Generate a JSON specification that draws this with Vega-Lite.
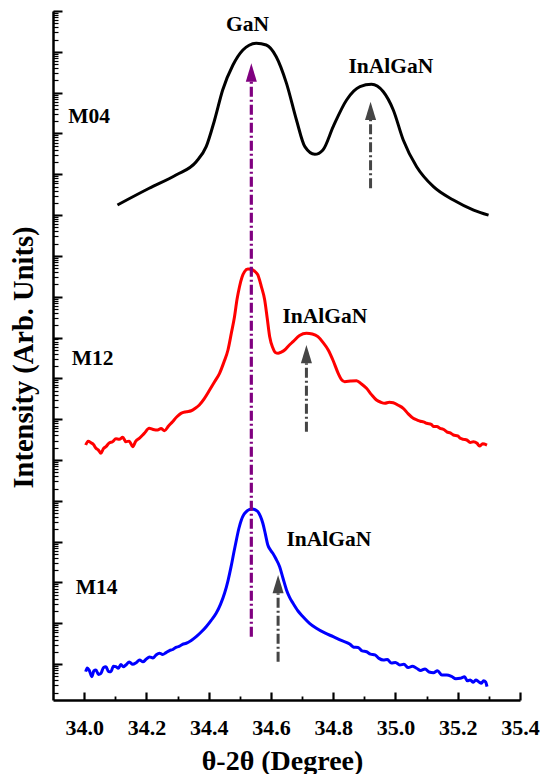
{
  "$schema": "https://vega.github.io/schema/vega-lite/v6.json",
  "width": 467,
  "height": 689,
  "autosize": {"type": "none"},
  "padding": {"left": 53, "top": 11, "right": 21, "bottom": 74},
  "background": "white",
  "config": {
    "view": {"stroke": null},
    "font": "Liberation Serif, Times New Roman, serif",
    "axis": {"grid": false, "domainColor": "#000000", "tickColor": "#000000", "labelColor": "#000000", "titleColor": "#000000", "labelFont": "Liberation Serif, Times New Roman, serif", "titleFont": "Liberation Serif, Times New Roman, serif"}
  },
  "datasets": {
    "curves": [
      {"sample": "M04", "theta": 34.107, "intensity": 1.77e12},
      {"sample": "M04", "theta": 34.209, "intensity": 4.54e12},
      {"sample": "M04", "theta": 34.295, "intensity": 9.59e12},
      {"sample": "M04", "theta": 34.360, "intensity": 2.03e13},
      {"sample": "M04", "theta": 34.392, "intensity": 4.74e13},
      {"sample": "M04", "theta": 34.419, "intensity": 2.14e14},
      {"sample": "M04", "theta": 34.445, "intensity": 1.16e15},
      {"sample": "M04", "theta": 34.478, "intensity": 4.75e15},
      {"sample": "M04", "theta": 34.510, "intensity": 1.11e16},
      {"sample": "M04", "theta": 34.530, "intensity": 1.45e16},
      {"sample": "M04", "theta": 34.553, "intensity": 1.62e16},
      {"sample": "M04", "theta": 34.585, "intensity": 1.47e16},
      {"sample": "M04", "theta": 34.617, "intensity": 7.59e15},
      {"sample": "M04", "theta": 34.650, "intensity": 1.69e15},
      {"sample": "M04", "theta": 34.682, "intensity": 2.14e14},
      {"sample": "M04", "theta": 34.709, "intensity": 4.74e13},
      {"sample": "M04", "theta": 34.741, "intensity": 3.08e13},
      {"sample": "M04", "theta": 34.767, "intensity": 3.94e13},
      {"sample": "M04", "theta": 34.800, "intensity": 1.47e14},
      {"sample": "M04", "theta": 34.843, "intensity": 6.61e14},
      {"sample": "M04", "theta": 34.886, "intensity": 1.40e15},
      {"sample": "M04", "theta": 34.923, "intensity": 1.60e15},
      {"sample": "M04", "theta": 34.961, "intensity": 1.05e15},
      {"sample": "M04", "theta": 34.993, "intensity": 3.76e14},
      {"sample": "M04", "theta": 35.025, "intensity": 6.92e13},
      {"sample": "M04", "theta": 35.068, "intensity": 1.53e13},
      {"sample": "M04", "theta": 35.122, "intensity": 4.97e12},
      {"sample": "M04", "theta": 35.186, "intensity": 2.34e12},
      {"sample": "M04", "theta": 35.251, "intensity": 1.33e12},
      {"sample": "M04", "theta": 35.299, "intensity": 1.00e12},

      {"sample": "M12", "theta": 34.005, "intensity": 2.33e6},
      {"sample": "M12", "theta": 34.013, "intensity": 2.9e6},
      {"sample": "M12", "theta": 34.022, "intensity": 2.65e6},
      {"sample": "M12", "theta": 34.030, "intensity": 2.4e6},
      {"sample": "M12", "theta": 34.038, "intensity": 1.94e6},
      {"sample": "M12", "theta": 34.046, "intensity": 1.75e6},
      {"sample": "M12", "theta": 34.054, "intensity": 1.46e6},
      {"sample": "M12", "theta": 34.062, "intensity": 1.9e6},
      {"sample": "M12", "theta": 34.070, "intensity": 2.12e6},
      {"sample": "M12", "theta": 34.080, "intensity": 2.6e6},
      {"sample": "M12", "theta": 34.091, "intensity": 2.81e6},
      {"sample": "M12", "theta": 34.102, "intensity": 3.3e6},
      {"sample": "M12", "theta": 34.113, "intensity": 3.21e6},
      {"sample": "M12", "theta": 34.124, "intensity": 3.6e6},
      {"sample": "M12", "theta": 34.134, "intensity": 2.81e6},
      {"sample": "M12", "theta": 34.145, "intensity": 2.9e6},
      {"sample": "M12", "theta": 34.156, "intensity": 2.12e6},
      {"sample": "M12", "theta": 34.166, "intensity": 2.9e6},
      {"sample": "M12", "theta": 34.177, "intensity": 3.40e6},
      {"sample": "M12", "theta": 34.193, "intensity": 4.5e6},
      {"sample": "M12", "theta": 34.209, "intensity": 5.98e6},
      {"sample": "M12", "theta": 34.222, "intensity": 5.6e6},
      {"sample": "M12", "theta": 34.236, "intensity": 5.43e6},
      {"sample": "M12", "theta": 34.247, "intensity": 5.9e6},
      {"sample": "M12", "theta": 34.258, "intensity": 5.22e6},
      {"sample": "M12", "theta": 34.271, "intensity": 6.8e6},
      {"sample": "M12", "theta": 34.284, "intensity": 8.69e6},
      {"sample": "M12", "theta": 34.298, "intensity": 1.15e7},
      {"sample": "M12", "theta": 34.311, "intensity": 1.39e7},
      {"sample": "M12", "theta": 34.328, "intensity": 1.52e7},
      {"sample": "M12", "theta": 34.344, "intensity": 1.61e7},
      {"sample": "M12", "theta": 34.357, "intensity": 1.85e7},
      {"sample": "M12", "theta": 34.370, "intensity": 2.23e7},
      {"sample": "M12", "theta": 34.386, "intensity": 3.2e7},
      {"sample": "M12", "theta": 34.403, "intensity": 5.19e7},
      {"sample": "M12", "theta": 34.419, "intensity": 8.3e7},
      {"sample": "M12", "theta": 34.435, "intensity": 1.33e8},
      {"sample": "M12", "theta": 34.449, "intensity": 2.5e8},
      {"sample": "M12", "theta": 34.462, "intensity": 4.95e8},
      {"sample": "M12", "theta": 34.473, "intensity": 1.3e9},
      {"sample": "M12", "theta": 34.483, "intensity": 3.24e9},
      {"sample": "M12", "theta": 34.491, "intensity": 8.5e9},
      {"sample": "M12", "theta": 34.499, "intensity": 1.76e10},
      {"sample": "M12", "theta": 34.507, "intensity": 3.0e10},
      {"sample": "M12", "theta": 34.515, "intensity": 4.10e10},
      {"sample": "M12", "theta": 34.526, "intensity": 4.75e10},
      {"sample": "M12", "theta": 34.537, "intensity": 4.70e10},
      {"sample": "M12", "theta": 34.548, "intensity": 4.2e10},
      {"sample": "M12", "theta": 34.558, "intensity": 3.41e10},
      {"sample": "M12", "theta": 34.569, "intensity": 1.8e10},
      {"sample": "M12", "theta": 34.580, "intensity": 8.32e9},
      {"sample": "M12", "theta": 34.588, "intensity": 3.0e9},
      {"sample": "M12", "theta": 34.596, "intensity": 1.05e9},
      {"sample": "M12", "theta": 34.606, "intensity": 5.6e8},
      {"sample": "M12", "theta": 34.614, "intensity": 4.3e8},
      {"sample": "M12", "theta": 34.623, "intensity": 4.11e8},
      {"sample": "M12", "theta": 34.633, "intensity": 4.4e8},
      {"sample": "M12", "theta": 34.644, "intensity": 4.95e8},
      {"sample": "M12", "theta": 34.657, "intensity": 6.3e8},
      {"sample": "M12", "theta": 34.671, "intensity": 7.93e8},
      {"sample": "M12", "theta": 34.692, "intensity": 1.12e9},
      {"sample": "M12", "theta": 34.714, "intensity": 1.27e9},
      {"sample": "M12", "theta": 34.733, "intensity": 1.22e9},
      {"sample": "M12", "theta": 34.751, "intensity": 1.05e9},
      {"sample": "M12", "theta": 34.767, "intensity": 7.6e8},
      {"sample": "M12", "theta": 34.784, "intensity": 4.95e8},
      {"sample": "M12", "theta": 34.800, "intensity": 2.7e8},
      {"sample": "M12", "theta": 34.816, "intensity": 1.33e8},
      {"sample": "M12", "theta": 34.826, "intensity": 9.5e7},
      {"sample": "M12", "theta": 34.837, "intensity": 8.30e7},
      {"sample": "M12", "theta": 34.856, "intensity": 8.6e7},
      {"sample": "M12", "theta": 34.875, "intensity": 8.77e7},
      {"sample": "M12", "theta": 34.891, "intensity": 7.3e7},
      {"sample": "M12", "theta": 34.907, "intensity": 5.71e7},
      {"sample": "M12", "theta": 34.923, "intensity": 4.0e7},
      {"sample": "M12", "theta": 34.939, "intensity": 2.95e7},
      {"sample": "M12", "theta": 34.953, "intensity": 2.6e7},
      {"sample": "M12", "theta": 34.966, "intensity": 2.45e7},
      {"sample": "M12", "theta": 34.980, "intensity": 2.6e7},
      {"sample": "M12", "theta": 34.993, "intensity": 2.54e7},
      {"sample": "M12", "theta": 35.009, "intensity": 2.2e7},
      {"sample": "M12", "theta": 35.025, "intensity": 1.85e7},
      {"sample": "M12", "theta": 35.041, "intensity": 1.35e7},
      {"sample": "M12", "theta": 35.057, "intensity": 1.05e7},
      {"sample": "M12", "theta": 35.070, "intensity": 9.5e6},
      {"sample": "M12", "theta": 35.080, "intensity": 8.9e6},
      {"sample": "M12", "theta": 35.090, "intensity": 8.6e6},
      {"sample": "M12", "theta": 35.100, "intensity": 7.94e6},
      {"sample": "M12", "theta": 35.115, "intensity": 7.5e6},
      {"sample": "M12", "theta": 35.122, "intensity": 6.6e6},
      {"sample": "M12", "theta": 35.133, "intensity": 6.6e6},
      {"sample": "M12", "theta": 35.143, "intensity": 5.98e6},
      {"sample": "M12", "theta": 35.155, "intensity": 5.6e6},
      {"sample": "M12", "theta": 35.165, "intensity": 4.9e6},
      {"sample": "M12", "theta": 35.176, "intensity": 4.6e6},
      {"sample": "M12", "theta": 35.186, "intensity": 4.10e6},
      {"sample": "M12", "theta": 35.200, "intensity": 3.9e6},
      {"sample": "M12", "theta": 35.208, "intensity": 3.4e6},
      {"sample": "M12", "theta": 35.219, "intensity": 3.2e6},
      {"sample": "M12", "theta": 35.229, "intensity": 3.09e6},
      {"sample": "M12", "theta": 35.240, "intensity": 2.7e6},
      {"sample": "M12", "theta": 35.250, "intensity": 2.8e6},
      {"sample": "M12", "theta": 35.262, "intensity": 2.57e6},
      {"sample": "M12", "theta": 35.270, "intensity": 2.2e6},
      {"sample": "M12", "theta": 35.280, "intensity": 2.5e6},
      {"sample": "M12", "theta": 35.294, "intensity": 2.33e6},

      {"sample": "M14", "theta": 34.005, "intensity": 6.53},
      {"sample": "M14", "theta": 34.010, "intensity": 8.0},
      {"sample": "M14", "theta": 34.016, "intensity": 7.18},
      {"sample": "M14", "theta": 34.025, "intensity": 4.92},
      {"sample": "M14", "theta": 34.031, "intensity": 6.8},
      {"sample": "M14", "theta": 34.038, "intensity": 7.18},
      {"sample": "M14", "theta": 34.046, "intensity": 5.6},
      {"sample": "M14", "theta": 34.054, "intensity": 5.96},
      {"sample": "M14", "theta": 34.062, "intensity": 8.2},
      {"sample": "M14", "theta": 34.070, "intensity": 8.65},
      {"sample": "M14", "theta": 34.078, "intensity": 6.6},
      {"sample": "M14", "theta": 34.086, "intensity": 6.53},
      {"sample": "M14", "theta": 34.094, "intensity": 8.9},
      {"sample": "M14", "theta": 34.102, "intensity": 8.65},
      {"sample": "M14", "theta": 34.110, "intensity": 7.9},
      {"sample": "M14", "theta": 34.118, "intensity": 9.8},
      {"sample": "M14", "theta": 34.126, "intensity": 8.6},
      {"sample": "M14", "theta": 34.134, "intensity": 9.51},
      {"sample": "M14", "theta": 34.145, "intensity": 11.2},
      {"sample": "M14", "theta": 34.156, "intensity": 9.9},
      {"sample": "M14", "theta": 34.167, "intensity": 10.8},
      {"sample": "M14", "theta": 34.178, "intensity": 12.6},
      {"sample": "M14", "theta": 34.189, "intensity": 11.4},
      {"sample": "M14", "theta": 34.199, "intensity": 13.1},
      {"sample": "M14", "theta": 34.210, "intensity": 15.0},
      {"sample": "M14", "theta": 34.221, "intensity": 14.1},
      {"sample": "M14", "theta": 34.231, "intensity": 16.7},
      {"sample": "M14", "theta": 34.242, "intensity": 18.5},
      {"sample": "M14", "theta": 34.252, "intensity": 17.2},
      {"sample": "M14", "theta": 34.263, "intensity": 19.1},
      {"sample": "M14", "theta": 34.274, "intensity": 21.5},
      {"sample": "M14", "theta": 34.285, "intensity": 22.8},
      {"sample": "M14", "theta": 34.295, "intensity": 25.8},
      {"sample": "M14", "theta": 34.305, "intensity": 27.0},
      {"sample": "M14", "theta": 34.316, "intensity": 30.5},
      {"sample": "M14", "theta": 34.328, "intensity": 32.4},
      {"sample": "M14", "theta": 34.344, "intensity": 38},
      {"sample": "M14", "theta": 34.360, "intensity": 47.0},
      {"sample": "M14", "theta": 34.376, "intensity": 61},
      {"sample": "M14", "theta": 34.392, "intensity": 82.6},
      {"sample": "M14", "theta": 34.408, "intensity": 118},
      {"sample": "M14", "theta": 34.424, "intensity": 176},
      {"sample": "M14", "theta": 34.438, "intensity": 290},
      {"sample": "M14", "theta": 34.451, "intensity": 543},
      {"sample": "M14", "theta": 34.462, "intensity": 1100},
      {"sample": "M14", "theta": 34.472, "intensity": 2440},
      {"sample": "M14", "theta": 34.481, "intensity": 5500},
      {"sample": "M14", "theta": 34.489, "intensity": 11000},
      {"sample": "M14", "theta": 34.497, "intensity": 21000},
      {"sample": "M14", "theta": 34.505, "intensity": 34000},
      {"sample": "M14", "theta": 34.513, "intensity": 46000},
      {"sample": "M14", "theta": 34.521, "intensity": 54200},
      {"sample": "M14", "theta": 34.530, "intensity": 61000},
      {"sample": "M14", "theta": 34.540, "intensity": 63100},
      {"sample": "M14", "theta": 34.550, "intensity": 60000},
      {"sample": "M14", "theta": 34.558, "intensity": 54200},
      {"sample": "M14", "theta": 34.566, "intensity": 42000},
      {"sample": "M14", "theta": 34.574, "intensity": 28200},
      {"sample": "M14", "theta": 34.582, "intensity": 15500},
      {"sample": "M14", "theta": 34.590, "intensity": 8280},
      {"sample": "M14", "theta": 34.598, "intensity": 6300},
      {"sample": "M14", "theta": 34.606, "intensity": 5190},
      {"sample": "M14", "theta": 34.616, "intensity": 3800},
      {"sample": "M14", "theta": 34.628, "intensity": 2440},
      {"sample": "M14", "theta": 34.639, "intensity": 1250},
      {"sample": "M14", "theta": 34.650, "intensity": 655},
      {"sample": "M14", "theta": 34.660, "intensity": 430},
      {"sample": "M14", "theta": 34.671, "intensity": 309},
      {"sample": "M14", "theta": 34.687, "intensity": 200},
      {"sample": "M14", "theta": 34.703, "intensity": 145},
      {"sample": "M14", "theta": 34.724, "intensity": 100},
      {"sample": "M14", "theta": 34.746, "intensity": 75.5},
      {"sample": "M14", "theta": 34.773, "intensity": 58},
      {"sample": "M14", "theta": 34.800, "intensity": 47.0},
      {"sample": "M14", "theta": 34.826, "intensity": 38},
      {"sample": "M14", "theta": 34.853, "intensity": 31.1},
      {"sample": "M14", "theta": 34.866, "intensity": 26},
      {"sample": "M14", "theta": 34.880, "intensity": 25.5},
      {"sample": "M14", "theta": 34.893, "intensity": 21},
      {"sample": "M14", "theta": 34.907, "intensity": 20.1},
      {"sample": "M14", "theta": 34.920, "intensity": 17.5},
      {"sample": "M14", "theta": 34.934, "intensity": 16.8},
      {"sample": "M14", "theta": 34.947, "intensity": 13.8},
      {"sample": "M14", "theta": 34.961, "intensity": 12.6},
      {"sample": "M14", "theta": 34.974, "intensity": 12.9},
      {"sample": "M14", "theta": 34.987, "intensity": 10.6},
      {"sample": "M14", "theta": 35.000, "intensity": 11.0},
      {"sample": "M14", "theta": 35.014, "intensity": 9.51},
      {"sample": "M14", "theta": 35.027, "intensity": 9.9},
      {"sample": "M14", "theta": 35.041, "intensity": 8.2},
      {"sample": "M14", "theta": 35.054, "intensity": 8.8},
      {"sample": "M14", "theta": 35.068, "intensity": 7.91},
      {"sample": "M14", "theta": 35.081, "intensity": 7.0},
      {"sample": "M14", "theta": 35.095, "intensity": 7.6},
      {"sample": "M14", "theta": 35.108, "intensity": 6.4},
      {"sample": "M14", "theta": 35.122, "intensity": 6.17},
      {"sample": "M14", "theta": 35.135, "intensity": 6.9},
      {"sample": "M14", "theta": 35.149, "intensity": 5.4},
      {"sample": "M14", "theta": 35.165, "intensity": 5.41},
      {"sample": "M14", "theta": 35.180, "intensity": 5.0},
      {"sample": "M14", "theta": 35.194, "intensity": 4.4},
      {"sample": "M14", "theta": 35.208, "intensity": 4.5},
      {"sample": "M14", "theta": 35.222, "intensity": 4.9},
      {"sample": "M14", "theta": 35.231, "intensity": 3.9},
      {"sample": "M14", "theta": 35.240, "intensity": 4.08},
      {"sample": "M14", "theta": 35.250, "intensity": 3.6},
      {"sample": "M14", "theta": 35.258, "intensity": 4.1},
      {"sample": "M14", "theta": 35.267, "intensity": 3.71},
      {"sample": "M14", "theta": 35.276, "intensity": 3.4},
      {"sample": "M14", "theta": 35.283, "intensity": 3.93},
      {"sample": "M14", "theta": 35.290, "intensity": 3.6},
      {"sample": "M14", "theta": 35.294, "intensity": 2.8}
    ],
    "grayShafts": [
      {"theta": 34.920, "low": 4.54e12, "high": 2.14e14},
      {"theta": 34.714, "low": 4.94e6, "high": 2.34e8},
      {"theta": 34.623, "low": 11.5, "high": 543}
    ],
    "purpleShaft": [
      {"theta": 34.537, "low": 47.0, "high": 1.85e15}
    ],
    "grayHeads": [
      {"theta": 34.920, "intensity": 3.58e14},
      {"theta": 34.714, "intensity": 3.93e8},
      {"theta": 34.623, "intensity": 910}
    ],
    "purpleHead": [
      {"theta": 34.537, "intensity": 3.11e15}
    ],
    "labels": [
      {"theta": 34.525, "intensity": 4.54e16, "label": "GaN"},
      {"theta": 34.985, "intensity": 4.32e15, "label": "InAlGaN"},
      {"theta": 34.773, "intensity": 3.24e9, "label": "InAlGaN"},
      {"theta": 34.786, "intensity": 1.10e4, "label": "InAlGaN"},
      {"theta": 34.016, "intensity": 2.58e14, "label": "M04"},
      {"theta": 34.027, "intensity": 2.93e8, "label": "M12"},
      {"theta": 34.040, "intensity": 719, "label": "M14"}
    ]
  },
  "layer": [
    {
      "data": {"name": "curves"},
      "mark": {"type": "line", "strokeWidth": 3, "interpolate": "monotone"},
      "encoding": {
        "x": {
          "field": "theta", "type": "quantitative",
          "scale": {"domain": [33.9, 35.4], "nice": false, "zero": false},
          "axis": {
            "orient": "bottom",
            "values": [34.0, 34.2, 34.4, 34.6, 34.8, 35.0, 35.2, 35.4],
            "format": ".1f", "tickSize": 0, "tickWidth": 2.2, "domainWidth": 2.5,
            "labelFontSize": 22, "labelFontWeight": "bold", "labelPadding": 34, "labelBaseline": "alphabetic",
            "labelFlush": false, "labelOverlap": false, "labelBound": false,
            "title": "θ-2θ (Degree)", "titleFontSize": 28, "titleFontWeight": "bold",
            "titleX": 229, "titleY": 69, "titleBaseline": "alphabetic"
          }
        },
        "y": {
          "field": "intensity", "type": "quantitative",
          "scale": {"type": "log", "domain": [1.32, 1e17], "nice": false},
          "axis": {
            "orient": "left",
            "values": [10, 100, 1000, 10000, 100000, 1e6, 1e7, 1e8, 1e9, 1e10, 1e11, 1e12, 1e13, 1e14, 1e15, 1e16, 1e17],
            "labels": false, "tickSize": -9, "tickWidth": 2, "domainWidth": 2.5,
            "title": "Intensity (Arb. Units)", "titleFontSize": 28.5, "titleFontWeight": "bold",
            "titleX": -21, "titleY": 346, "titleBaseline": "alphabetic", "titleAngle": 270
          }
        },
        "stroke": {
          "field": "sample", "type": "nominal",
          "scale": {"domain": ["M04", "M12", "M14"], "range": ["#000000", "#FF0000", "#0000FF"]},
          "legend": null
        },
        "detail": {"field": "sample"}
      }
    },
    {
      "data": {"name": "grayShafts"},
      "mark": {"type": "rule", "color": "#454545", "strokeWidth": 3, "strokeDash": [10, 3, 2, 3]},
      "encoding": {
        "x": {
          "field": "theta", "type": "quantitative",
          "scale": {"domain": [33.9, 35.4], "nice": false, "zero": false},
          "axis": {
            "orient": "bottom",
            "values": [34.1, 34.3, 34.5, 34.7, 34.9, 35.1, 35.3],
            "labels": false, "tickSize": -4, "tickWidth": 1.8, "domain": false, "title": null
          }
        },
        "y": {
          "field": "low", "type": "quantitative",
          "scale": {"type": "log", "domain": [1.32, 1e17], "nice": false},
          "axis": {"orient": "left", "tickCount": 200, "labels": false, "tickSize": -5, "tickWidth": 1.2, "domain": false, "title": null}
        },
        "y2": {"field": "high"}
      }
    },
    {
      "data": {"name": "purpleShaft"},
      "mark": {"type": "rule", "color": "#800080", "strokeWidth": 3.2, "strokeDash": [10, 3, 2, 3]},
      "encoding": {
        "x": {
          "field": "theta", "type": "quantitative",
          "scale": {"domain": [33.9, 35.4], "nice": false, "zero": false},
          "axis": {
            "orient": "bottom",
            "values": [34.0, 34.2, 34.4, 34.6, 34.8, 35.0, 35.2, 35.4],
            "labels": false, "tickSize": -8, "tickWidth": 2.2, "domain": false, "title": null
          }
        },
        "y": {"field": "low", "type": "quantitative", "axis": null},
        "y2": {"field": "high"}
      }
    },
    {
      "data": {"name": "grayHeads"},
      "mark": {"type": "point", "shape": "M0,-1L0.6,1L-0.6,1Z", "filled": true, "size": 340, "color": "#454545", "opacity": 1, "strokeWidth": 0},
      "encoding": {
        "x": {"field": "theta", "type": "quantitative", "axis": null},
        "y": {"field": "intensity", "type": "quantitative", "axis": null}
      }
    },
    {
      "data": {"name": "purpleHead"},
      "mark": {"type": "point", "shape": "M0,-1L0.6,1L-0.6,1Z", "filled": true, "size": 340, "color": "#800080", "opacity": 1, "strokeWidth": 0},
      "encoding": {
        "x": {"field": "theta", "type": "quantitative", "axis": null},
        "y": {"field": "intensity", "type": "quantitative", "axis": null}
      }
    },
    {
      "data": {"name": "labels"},
      "mark": {"type": "text", "font": "Liberation Serif, Times New Roman, serif", "fontSize": 21.5, "fontWeight": "bold", "color": "#000000", "align": "center", "baseline": "middle"},
      "encoding": {
        "x": {"field": "theta", "type": "quantitative", "axis": null},
        "y": {"field": "intensity", "type": "quantitative", "axis": null},
        "text": {"field": "label"}
      }
    }
  ],
  "resolve": {"axis": {"x": "independent", "y": "independent"}}
}
